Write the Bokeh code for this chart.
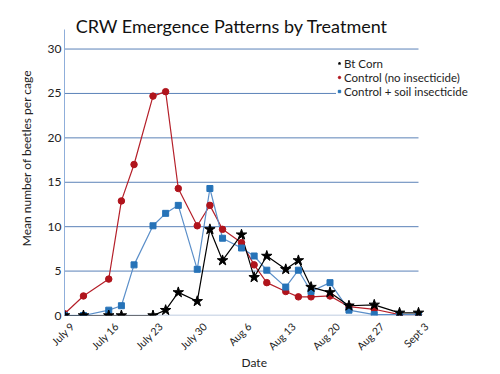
import math
import pandas as pd
from bokeh.plotting import figure
from bokeh.models import (Range1d, FixedTicker, Legend, LegendItem, Label, Title,
                          ColumnDataSource)
from bokeh.embed import file_html
from bokeh.resources import INLINE

# ---------------- data ----------------
start_date = "2012-07-09"
dates = ["2012-07-09", "2012-07-12", "2012-07-16", "2012-07-18", "2012-07-20",
         "2012-07-23", "2012-07-25", "2012-07-27", "2012-07-30", "2012-08-01",
         "2012-08-03", "2012-08-06", "2012-08-08", "2012-08-10", "2012-08-13",
         "2012-08-15", "2012-08-17", "2012-08-20", "2012-08-23", "2012-08-27",
         "2012-08-31", "2012-09-03"]
control_no_insecticide = [0.2, 2.2, 4.1, 12.9, 17.0, 24.7, 25.2, 14.3, 10.1, 12.4,
                          9.7, 8.2, 5.7, 3.7, 2.7, 2.1, 2.1, 2.2, 1.0, 0.7,
                          0.1, 0.1]
control_soil_insecticide = [0.0, 0.0, 0.6, 1.1, 5.7, 10.1, 11.5, 12.4, 5.2, 14.3,
                            8.7, 7.6, 6.7, 5.1, 3.2, 5.1, 2.7, 3.7, 0.6, 0.1,
                            0.1, 0.1]
bt_dates = ["2012-07-09", "2012-07-12", "2012-07-16", "2012-07-18",
            "2012-07-23", "2012-07-25", "2012-07-27", "2012-07-30", "2012-08-01",
            "2012-08-03", "2012-08-06", "2012-08-08", "2012-08-10", "2012-08-13",
            "2012-08-15", "2012-08-17", "2012-08-20", "2012-08-23", "2012-08-27",
            "2012-08-31", "2012-09-03"]
bt_corn = [0.0, 0.0, 0.0, 0.0, 0.0, 0.6, 2.6, 1.6, 9.7, 6.2, 9.1, 4.3, 6.7, 5.2,
           6.2, 3.2, 2.6, 1.1, 1.2, 0.3, 0.3]
tick_dates = ["2012-07-09", "2012-07-16", "2012-07-23", "2012-07-30", "2012-08-06",
              "2012-08-13", "2012-08-20", "2012-08-27", "2012-09-03"]
tick_labels = ["July 9", "July 16", "July 23", "July 30", "Aug 6", "Aug 13",
               "Aug 20", "Aug 27", "Sept 3"]
y_ticks = [0, 5, 10, 15, 20, 25, 30]
y_max = 32.2

t0 = pd.Timestamp(start_date)
def day(d):
    return int((pd.Timestamp(d) - t0).days)

x_all = [day(d) for d in dates]
x_bt = [day(d) for d in bt_dates]
x_ticks = [day(d) for d in tick_dates]
x_last = x_ticks[-1]

FONT = "Lato"
RED_LINE = "#B5202A"
RED = "#B0141C"
BLUE_LINE = "#5B8FC9"
BLUE = "#2673B8"
GRID = "#5B82B8"
AXIS = "#A9BCD6"

# layout (figure px): plot area x 64..418, y 29..315; frame extended right/up
W, H = 500, 374
LEFT, BOTTOM, FRAME_RIGHT = 64, 315, 480
px_per_day = (418 - LEFT) / x_last
px_per_unit = (BOTTOM - 29) / y_max
x_end = (FRAME_RIGHT - LEFT) / px_per_day
p = figure(width=W, height=H, output_backend="svg", toolbar_location=None,
           title=None,
           x_range=Range1d(0, x_end),
           y_range=Range1d(0, BOTTOM / px_per_unit),
           min_border_left=LEFT, min_border_right=W - FRAME_RIGHT, min_border_top=0,
           min_border_bottom=H - BOTTOM)
p.outline_line_color = None
p.background_fill_color = "white"
p.border_fill_color = "white"
p.xgrid.grid_line_color = None
p.ygrid.grid_line_color = None

# tick labels sit slightly right of their dates, as in the reference
label_shift = 8 / px_per_day
p.extra_x_ranges = {"labels": Range1d(-label_shift, x_end - label_shift)}
p.xaxis[0].x_range_name = "labels"

# horizontal gridlines spanning the date range only
grid_y = y_ticks[1:]
p.segment(x0=[0] * len(grid_y), x1=[x_last] * len(grid_y), y0=grid_y, y1=grid_y,
          line_color=GRID, line_width=1, level="underlay")
p.segment(x0=[0], x1=[x_last], y0=[0], y1=[0], line_color=AXIS, line_width=1.3,
          level="underlay")

# axes
p.yaxis.ticker = FixedTicker(ticks=y_ticks)
p.yaxis.bounds = (0, y_max)
p.yaxis.axis_line_color = "#8FAEDA"
p.yaxis.major_tick_line_color = None
p.yaxis.minor_tick_line_color = None
p.yaxis.major_tick_out = 0
p.yaxis.minor_tick_out = 0
p.yaxis.major_label_standoff = 3
p.yaxis.major_label_text_font = FONT
p.yaxis.major_label_text_font_size = "12px"
p.yaxis.major_label_text_color = "#222222"
p.yaxis.axis_label = "Mean number of beetles per cage"
p.yaxis.axis_label_text_font = FONT
p.yaxis.axis_label_text_font_style = "normal"
p.yaxis.axis_label_text_font_size = "12px"
p.yaxis.axis_label_text_color = "#222222"
p.yaxis.axis_label_standoff = 11

p.xaxis.ticker = FixedTicker(ticks=x_ticks)
p.xaxis.major_label_overrides = {t: l for t, l in zip(x_ticks, tick_labels)}
p.xaxis.axis_line_color = None
p.xaxis.major_tick_line_color = None
p.xaxis.minor_tick_line_color = None
p.xaxis.major_tick_out = 0
p.xaxis.minor_tick_out = 0
p.xaxis.major_label_orientation = math.pi / 4
p.xaxis.major_label_standoff = 9
p.xaxis.major_label_text_font = FONT
p.xaxis.major_label_text_font_size = "10.5px"
p.xaxis.major_label_text_color = "#222222"

# series
p.line(x_all, control_no_insecticide, line_color=RED_LINE, line_width=1.2)
p.line(x_all, control_soil_insecticide, line_color=BLUE_LINE, line_width=1.2)
p.line(x_bt, bt_corn, line_color="black", line_width=1.2)
p.scatter(x_all, control_no_insecticide, marker="circle", size=6.5,
          fill_color=RED, line_color=RED)
p.scatter(x_all, control_soil_insecticide, marker="square", size=6,
          fill_color=BLUE, line_color=BLUE)
p.scatter(x_bt, bt_corn, marker="star", size=11, fill_color="black",
          line_color="black")

# legend-only glyphs (smaller markers, as in the reference); NaN point is not drawn
nan_pt = dict(x=[float("nan")], y=[float("nan")])
lg_bt = p.scatter("x", "y", source=ColumnDataSource(nan_pt), marker="star", size=8,
                  fill_color="black", line_color="black")
lg_red = p.scatter("x", "y", source=ColumnDataSource(nan_pt), marker="circle", size=4.5,
                   fill_color=RED, line_color=RED)
lg_blue = p.scatter("x", "y", source=ColumnDataSource(nan_pt), marker="square", size=5,
                    fill_color=BLUE, line_color=BLUE)
legend = Legend(items=[LegendItem(label="Bt Corn", renderers=[lg_bt]),
                       LegendItem(label="Control (no insecticide)", renderers=[lg_red]),
                       LegendItem(label="Control + soil insecticide", renderers=[lg_blue])],
                location=(336 - LEFT, BOTTOM - 98))
legend.glyph_width = 6
legend.glyph_height = 14
legend.label_height = 14
legend.label_standoff = 2
legend.spacing = 0
legend.padding = 3
legend.margin = 0
legend.border_line_color = None
legend.background_fill_color = "white"
legend.background_fill_alpha = 1.0
legend.label_text_font = FONT
legend.label_text_font_size = "11.5px"
legend.label_text_color = "#222222"
p.add_layout(legend, "center")

# title
p.add_layout(Label(x=231.5 - LEFT, y=BOTTOM - 25.5, x_units="screen", y_units="screen",
                   text="CRW Emergence Patterns by Treatment", text_align="center",
                   text_baseline="alphabetic", text_font=FONT, text_font_size="18px",
                   text_color="#111111"))
# x-axis title
p.add_layout(Title(text="Date", align="left", offset=254 - LEFT - 5 - 8,
                   vertical_align="top", standoff=-10, text_font=FONT,
                   text_font_size="12px", text_font_style="normal",
                   text_color="#222222"), "below")

open("out.html", "w").write(file_html(p, INLINE))
